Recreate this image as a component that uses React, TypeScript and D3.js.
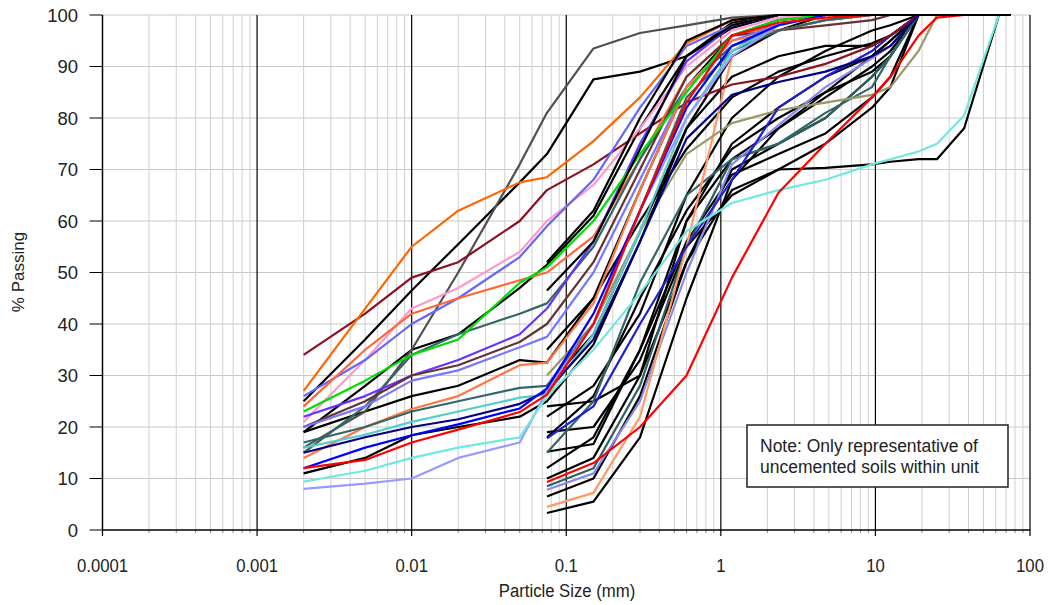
import React from "react";
import * as d3 from "d3";

const n = null;

// sieve / hydrometer particle sizes (mm)
const SIZES = [0.002, 0.005, 0.01, 0.02, 0.05, 0.075, 0.15, 0.3, 0.6, 1.18, 2.36, 4.75, 9.5, 12.5, 19, 25, 37.5, 63, 75];

const X_TICKS = [0.0001, 0.001, 0.01, 0.1, 1, 10, 100];
const X_TICK_LABELS = ["0.0001", "0.001", "0.01", "0.1", "1", "10", "100"];
const Y_TICKS = [0, 10, 20, 30, 40, 50, 60, 70, 80, 90, 100];

// coarse samples (sieve analysis only, from 0.075 mm)
const C1 = [n, n, n, n, n, 24, 25, 30, 60, 75, 82, 88, 92, 95, 100, 100, 100, 100, 100];
const C2 = [n, n, n, n, n, 22, 28, 42, 65, 80, 88, 93, 97, 98, 100, 100, 100, 100, 100];
const C3 = [n, n, n, n, n, 19, 20, 33, 55, 65, 70, 70.3, 71, 71.5, 72, 72, 78, 100, 100];
const C4 = [n, n, n, n, n, 17.8, 24, 40, 55, 68, 82, 88, 93, 96, 100, 100, 100, 100, 100];
const C5 = [n, n, n, n, n, 15.2, 16.7, 35, 60, 72, 78, 84, 90, 93, 100, 100, 100, 100, 100];
const C6 = [n, n, n, n, n, 9.3, 13, 20, 30, 49, 65.5, 75, 84, 88, 96, 99.5, 100, 100, 100];
const C7 = [n, n, n, n, n, 7.8, 11, 25, 50, 71, 78.6, 86, 91.6, 94, 100, 100, 100, 100, 100];
const C8 = [n, n, n, n, n, 8.5, 12, 28, 55, 72, 75, 80, 88, 92, 100, 100, 100, 100, 100];
const C9 = [n, n, n, n, n, 6.5, 10, 26, 52, 70, 75, 80, 88, 92, 100, 100, 100, 100, 100];
const C10 = [n, n, n, n, n, 4.5, 7.2, 22, 55, 92, 97, 100, 100, 100, 100, 100, 100, 100, 100];
const C11 = [n, n, n, n, n, 3.3, 5.5, 18, 45, 68, 78, 85, 92, 95, 100, 100, 100, 100, 100];
const C12 = [n, n, n, n, n, 52, 62, 80, 95, 99, 100, 100, 100, 100, 100, 100, 100, 100, 100];
const C13 = [n, n, n, n, n, 46.5, 56, 74, 92, 98, 100, 100, 100, 100, 100, 100, 100, 100, 100];
const C14 = [n, n, n, n, n, 30, 40, 58, 73, 79, 81.5, 83, 84.5, 86, 93, 100, 100, 100, 100];
const C15 = [n, n, n, n, n, 35, 45, 60, 74, 84, 89, 92, 94.5, 96, 100, 100, 100, 100, 100];
const C16 = [n, n, n, n, n, 12, 18, 35, 56, 69, 73, 77, 84, 88, 100, 100, 100, 100, 100];
const C17 = [n, n, n, n, n, 10, 14, 30, 52, 66, 70, 75, 82, 86, 100, 100, 100, 100, 100];
const C18 = [n, n, n, n, n, 28, 38, 58, 78, 88, 92, 94, 94, 96, 100, 100, 100, 100, 100];
const C19 = [n, n, n, n, n, 18, 26, 45, 62, 74, 80, 85, 89, 92, 100, 100, 100, 100, 100];
const C20 = [n, n, n, n, n, 15, 25, 48, 65, 72, 75, 81, 86, 92, 100, 100, 100, 100, 100];

// fine samples (with hydrometer, from 0.002 mm)
const F1 = [34, 42, 49, 52, 60, 66, 71, 77, 83, 86.5, 88, 90.5, 94, 96, 100, 100, 100, 100, 100];
const F2 = [27, 43, 55, 62, 67.5, 68.5, 75.5, 84, 94.5, 99, 100, 100, 100, 100, 100, 100, 100, 100, 100];
const F3 = [16, 23, 35, 50, 71, 81, 93.5, 96.5, 98, 99.5, 100, 100, 100, 100, 100, 100, 100, 100, 100];
const F4 = [25, 37, 46.5, 55.5, 67.5, 73, 87.5, 89, 92, 97.5, 100, 100, 100, 100, 100, 100, 100, 100, 100];
const F5 = [21, 33, 43, 47, 54, 60, 67, 78, 90, 97, 99.5, 100, 100, 100, 100, 100, 100, 100, 100];
const F6 = [26, 33, 40, 45, 53, 59, 68, 82, 94, 98, 100, 100, 100, 100, 100, 100, 100, 100, 100];
const F7 = [24, 35, 42, 45, 48.5, 50, 57, 72, 88, 96, 98, 100, 100, 100, 100, 100, 100, 100, 100];
const F8 = [23, 29, 34, 37, 48, 51, 60, 73, 85, 96, 99, 100, 100, 100, 100, 100, 100, 100, 100];
const F9 = [19, 28, 35, 38, 47, 51.5, 61, 78, 92, 98.5, 100, 100, 100, 100, 100, 100, 100, 100, 100];
const F10 = [15, 24, 34, 38, 42, 44, 55, 72, 86, 94, 97, 99, 100, 100, 100, 100, 100, 100, 100];
const F11 = [22, 26, 30, 33, 38, 43, 56, 75, 91, 98, 100, 100, 100, 100, 100, 100, 100, 100, 100];
const F12 = [20, 25, 30, 32, 36.5, 40, 52, 70, 88, 96, 97, 98, 99, 100, 100, 100, 100, 100, 100];
const F13 = [20, 24, 29, 31, 35.5, 37.5, 50, 68, 86, 95, 98, 100, 100, 100, 100, 100, 100, 100, 100];
const F14 = [19, 23, 26, 28, 33, 32.5, 45, 66, 86, 96, 99, 100, 100, 100, 100, 100, 100, 100, 100];
const F15 = [14, 20, 23.5, 26, 32, 32.5, 44, 66, 86, 95, 97, 99, 100, 100, 100, 100, 100, 100, 100];
const F16 = [17, 20, 23, 25, 27.6, 28, 40, 62, 84, 93, 97, 99, 100, 100, 100, 100, 100, 100, 100];
const F17 = [16, 18.5, 21, 23, 25.7, 26.3, 38, 58, 80, 93, 98, 100, 100, 100, 100, 100, 100, 100, 100];
const F18 = [15, 18, 20, 21.5, 24.5, 27, 37, 56, 76, 84.5, 87, 89, 92, 94, 100, 100, 100, 100, 100];
const F19 = [12, 16, 18.4, 20.5, 23.6, 27.5, 42, 62, 82, 94, 98, 100, 100, 100, 100, 100, 100, 100, 100];
const F20 = [12, 13.6, 17, 19.5, 22.9, 26.3, 40, 62, 83, 96, 98.5, 99.5, 100, 100, 100, 100, 100, 100, 100];
const F21 = [11, 14, 18.4, 20, 22, 25, 36, 56, 78, 92, 97, 100, 100, 100, 100, 100, 100, 100, 100];
const F22 = [9.4, 11.5, 14, 16, 18, 26, 35, 46, 58, 63.5, 66, 68, 71, 72, 73.5, 75, 80.5, 100, 100];
const F23 = [8, 9, 10, 14, 17, 27, 40, 62, 80, 92, 98, 100, 100, 100, 100, 100, 100, 100, 100];

const SERIES: { values: (number | null)[]; color: string }[] = [
  { values: C1, color: "#000000" },
  { values: C2, color: "#000000" },
  { values: C3, color: "#000000" },
  { values: C5, color: "#000000" },
  { values: C9, color: "#000000" },
  { values: C11, color: "#000000" },
  { values: C15, color: "#000000" },
  { values: C16, color: "#000000" },
  { values: C17, color: "#000000" },
  { values: C18, color: "#000000" },
  { values: C19, color: "#000000" },
  { values: C8, color: "#2F5F5F" },
  { values: C20, color: "#336666" },
  { values: C7, color: "#8888EE" },
  { values: C10, color: "#FF9966" },
  { values: C14, color: "#999966" },
  { values: C4, color: "#2020CC" },
  { values: F4, color: "#000000" },
  { values: F9, color: "#000000" },
  { values: F14, color: "#000000" },
  { values: F21, color: "#000000" },
  { values: F3, color: "#505050" },
  { values: F1, color: "#8B1020" },
  { values: F2, color: "#FF6600" },
  { values: F5, color: "#FF99CC" },
  { values: F6, color: "#6666FF" },
  { values: F7, color: "#FF6633" },
  { values: F10, color: "#336666" },
  { values: F11, color: "#6633FF" },
  { values: F12, color: "#663333" },
  { values: F13, color: "#7777FF" },
  { values: F15, color: "#FF7744" },
  { values: F16, color: "#336666" },
  { values: F17, color: "#55CCCC" },
  { values: F18, color: "#000080" },
  { values: F23, color: "#9999FF" },
  { values: F22, color: "#70E8E0" },
  { values: F8, color: "#00DD00" },
  { values: F19, color: "#0000FF" },
  { values: F20, color: "#FF0000" },
  { values: C6, color: "#FF0000" },
  { values: C13, color: "#000000" },
  { values: C12, color: "#000000" },
];

const W = 1050;
const H = 605;
const LEFT = 102.5;
const RIGHT = 1030;
const TOP = 15;
const BOTTOM = 530;

export default function App() {
  const x = d3.scaleLog().domain([0.0001, 100]).range([LEFT, RIGHT]);
  const y = d3.scaleLinear().domain([0, 100]).range([BOTTOM, TOP]);

  const minor: number[] = [];
  for (let e = -4; e < 2; e++) {
    for (let k = 2; k <= 9; k++) minor.push(k * Math.pow(10, e));
  }

  const line = d3
    .line<[number, number | null]>()
    .defined((d) => d[1] != null)
    .x((d) => x(d[0]))
    .y((d) => y(d[1] as number));

  const sans = "'Liberation Sans', Arial, Helvetica, sans-serif";

  return (
    <svg
      width={W}
      height={H}
      style={{ position: "absolute", left: 0, top: 0, background: "#fff" }}
    >
      <rect x={0} y={0} width={W} height={H} fill="#fff" />
      {/* horizontal grid */}
      {Y_TICKS.filter((t) => t > 0).map((t) => (
        <line key={"h" + t} x1={LEFT} x2={RIGHT} y1={y(t)} y2={y(t)} stroke="#C8C8C8" strokeWidth={1} />
      ))}
      {/* minor vertical grid */}
      {minor.map((m, i) => (
        <line key={"m" + i} x1={x(m)} x2={x(m)} y1={TOP} y2={BOTTOM} stroke="#CFCFCF" strokeWidth={1} />
      ))}
      {/* decade lines */}
      {X_TICKS.map((t) => (
        <line key={"d" + t} x1={x(t)} x2={x(t)} y1={TOP} y2={BOTTOM + 6} stroke="#000" strokeWidth={1.2} />
      ))}
      {/* minor ticks */}
      {minor.map((m, i) => (
        <line key={"mt" + i} x1={x(m)} x2={x(m)} y1={BOTTOM} y2={BOTTOM + 3} stroke="#888" strokeWidth={1} />
      ))}
      {/* data */}
      {SERIES.map((s, i) => (
        <path
          key={"s" + i}
          d={line(SIZES.map((sz, j) => [sz, s.values[j]] as [number, number | null])) || ""}
          fill="none"
          stroke={s.color}
          strokeWidth={2.2}
          strokeLinejoin="round"
        />
      ))}
      {/* axes */}
      <line x1={LEFT} x2={LEFT} y1={TOP} y2={BOTTOM} stroke="#000" strokeWidth={1.3} />
      <line x1={LEFT} x2={RIGHT} y1={BOTTOM} y2={BOTTOM} stroke="#000" strokeWidth={1.3} />
      {Y_TICKS.map((t) => (
        <g key={"yt" + t}>
          <line x1={LEFT - 13} x2={LEFT} y1={y(t)} y2={y(t)} stroke="#000" strokeWidth={1} />
          <text x={78} y={y(t)} dy="0.36em" textAnchor="end" fontFamily={sans} fontSize={18.5} fill="#222">
            {t}
          </text>
        </g>
      ))}
      {X_TICKS.map((t, i) => (
        <text
          key={"xt" + t}
          transform={`translate(${x(t)}, 572) scale(0.88, 1)`}
          textAnchor="middle"
          fontFamily={sans}
          fontSize={19}
          fill="#222"
        >
          {X_TICK_LABELS[i]}
        </text>
      ))}
      <text
        transform="translate(567, 597) scale(0.88, 1)"
        textAnchor="middle"
        fontFamily={sans}
        fontSize={19}
        fill="#222"
      >
        Particle Size (mm)
      </text>
      <text
        transform={`translate(24, 272) rotate(-90)`}
        textAnchor="middle"
        fontFamily={sans}
        fontSize={17}
        fill="#222"
      >
        % Passing
      </text>
      {/* note box */}
      <rect x={747} y={425} width={261} height={62} fill="#fff" stroke="#222" strokeWidth={1.5} />
      <text x={760} y={452} fontFamily={sans} fontSize={17.5} fill="#222">
        Note: Only representative of
      </text>
      <text x={760} y={473} fontFamily={sans} fontSize={17.5} fill="#222">
        uncemented soils within unit
      </text>
    </svg>
  );
}
